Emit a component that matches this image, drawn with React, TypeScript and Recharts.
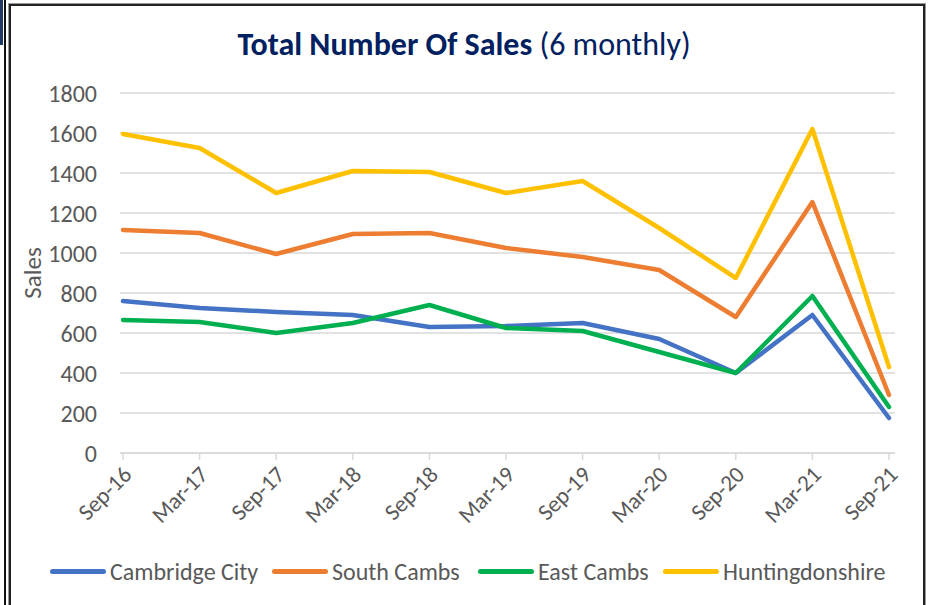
import React from 'react';
import { LineChart, Line, XAxis, YAxis, CartesianGrid } from 'recharts';

const periods = ['Sep-16', 'Mar-17', 'Sep-17', 'Mar-18', 'Sep-18', 'Mar-19', 'Sep-19', 'Mar-20', 'Sep-20', 'Mar-21', 'Sep-21'];
const cambridgeCity = [760, 725, 705, 690, 630, 635, 650, 570, 400, 690, 175];
const southCambs = [1115, 1100, 995, 1095, 1100, 1025, 980, 915, 680, 1255, 290];
const eastCambs = [665, 655, 600, 650, 740, 625, 610, 505, 400, 785, 230];
const huntingdonshire = [1595, 1525, 1300, 1410, 1405, 1300, 1360, 1125, 875, 1620, 430];
const yTicks = [0, 200, 400, 600, 800, 1000, 1200, 1400, 1600, 1800];

const series = [
  { key: 'cambridge', name: 'Cambridge City', color: '#4472C4', values: cambridgeCity },
  { key: 'south', name: 'South Cambs', color: '#ED7D31', values: southCambs },
  { key: 'east', name: 'East Cambs', color: '#00B050', values: eastCambs },
  { key: 'hunts', name: 'Huntingdonshire', color: '#FFC000', values: huntingdonshire },
];

const data = periods.map((p, i) => {
  const row: any = { period: p };
  series.forEach((s) => { row[s.key] = s.values[i]; });
  return row;
});

const FONT = 'Carlito, Lato, sans-serif';
const GREY = '#595959';
const legendLefts = [50, 272, 478, 663];

const XTick = (props: any) => {
  const { x, y, payload } = props;
  return (
    <g transform={`translate(${x + 10},${y + 14})`}>
      <text x={0} y={0} textAnchor="end" transform="rotate(-45)" fill={GREY} fontSize={23} fontFamily={FONT}>
        {payload.value}
      </text>
    </g>
  );
};

export default function App() {
  return (
    <div style={{ position: 'fixed', left: 0, top: 0, width: 928, height: 605, background: '#fff', overflow: 'hidden' }}>
      <div style={{ position: 'absolute', left: 0, top: 0, width: 3, height: 45, background: '#1F3864' }} />
      <div style={{ position: 'absolute', left: 4, top: 0, width: 2, height: 605, background: '#111' }} />
      <div style={{ position: 'absolute', left: 9, top: 4, width: 912, height: 640, border: '2px solid #222', boxShadow: '0 0 0 1px #999' }} />
      <div style={{ position: 'absolute', left: 0, top: 25, width: 928, textAlign: 'center', fontFamily: FONT, fontSize: 32, color: '#002060', whiteSpace: 'nowrap', lineHeight: '40px' }}>
        <span style={{ fontWeight: 700 }}>Total Number Of Sales</span>
        <span> (6 monthly)</span>
      </div>
      <div style={{ position: 'absolute', left: 0, top: 0 }}>
        <LineChart width={928} height={605} data={data} margin={{ top: 93, right: 33, bottom: 122, left: 0 }}>
          <CartesianGrid vertical={false} stroke="#D9D9D9" strokeWidth={1.5} />
          <XAxis
            dataKey="period"
            height={30}
            interval={0}
            tick={<XTick />}
            axisLine={{ stroke: '#D9D9D9', strokeWidth: 1.5 }}
            tickLine={{ stroke: '#D9D9D9', strokeWidth: 1.5 }}
            tickSize={7}
            padding={{ left: 3, right: 6 }}
          />
          <YAxis
            width={120}
            domain={[0, 1800]}
            ticks={yTicks}
            axisLine={false}
            tickLine={false}
            tickSize={0}
            tickMargin={23}
            tick={{ fill: GREY, fontSize: 24, fontFamily: FONT }}
            label={(p: any) => {
              const vb = p.viewBox || {};
              const cy = (vb.y || 93) + (vb.height || 360) / 2;
              return (
                <text x={32} y={cy} transform={`rotate(-90, 32, ${cy})`} textAnchor="middle" dominantBaseline="central" fill={GREY} fontSize={25} fontFamily={FONT}>
                  Sales
                </text>
              );
            }}
          />
          {series.map((s) => (
            <Line
              key={s.key}
              type="linear"
              dataKey={s.key}
              name={s.name}
              stroke={s.color}
              strokeWidth={4.5}
              strokeLinecap="round"
              strokeLinejoin="round"
              dot={false}
              activeDot={false}
              isAnimationActive={false}
            />
          ))}
        </LineChart>
      </div>
      {series.map((s, i) => (
        <div key={s.key} style={{ position: 'absolute', left: legendLefts[i], top: 556, display: 'flex', alignItems: 'center', height: 30 }}>
          <div style={{ width: 56, height: 5, borderRadius: 3, background: s.color, marginRight: 4 }} />
          <span style={{ fontFamily: FONT, fontSize: 24, color: GREY, whiteSpace: 'nowrap' }}>{s.name}</span>
        </div>
      ))}
    </div>
  );
}
